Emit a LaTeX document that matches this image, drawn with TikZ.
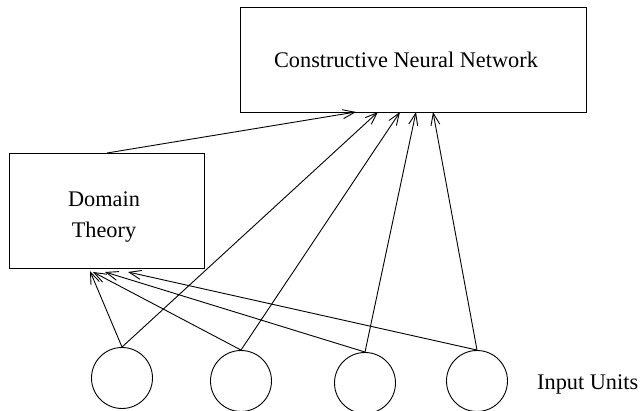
\documentclass[tikz,border=0pt]{standalone}
\usepackage{fontspec}
\setmainfont{Liberation Serif}
\usetikzlibrary{arrows.meta}
\begin{document}
\begin{tikzpicture}[x=1pt,y=-1pt,
  every node/.style={font=\fontsize{22.3}{31}\selectfont},
  box/.style={draw, line width=0.9pt, inner sep=0pt},
  txt/.style={inner sep=0pt, align=center},
  unit/.style={draw, circle, line width=0.9pt, minimum size=61pt, inner sep=0pt},
  conn/.style={line width=0.9pt, -{Straight Barb[length=12pt,width=9pt,line width=0.9pt]}}]
\useasboundingbox (0,0) rectangle (641,411);
\node[box, minimum width=346pt, minimum height=105pt] (cnn) at (413,59.5) {};
\node[txt] (cnntxt) at (406,60) {Constructive Neural Network};
\node[box, minimum width=195pt, minimum height=115pt] (dom) at (106.5,210.5) {};
\node[txt] (domtxt) at (104,217) {Domain\\Theory};
\node[unit] (u1) at (122,378) {};
\node[unit] (u2) at (241,381) {};
\node[unit] (u3) at (365,383) {};
\node[unit] (u4) at (477,381) {};
\node[anchor=west, inner sep=0pt] (lbl) at (537,384) {Input Units};
\coordinate (dtop) at (107,153);
\coordinate (k0) at (356,112);
\coordinate (k1) at (378,112);
\coordinate (k2) at (400,112);
\coordinate (k3) at (416,112);
\coordinate (k4) at (433,112);
\coordinate (d1) at (90,271);
\coordinate (d2) at (93,272);
\coordinate (d3) at (105,272);
\coordinate (d4) at (128,272);
\draw[conn] (dtop) -- (k0);
\draw[conn] (u1.north) -- (k1);
\draw[conn] (u2.north) -- (k2);
\draw[conn] (u3.north) -- (k3);
\draw[conn] (u4.north) -- (k4);
\draw[conn] (u1.north) -- (d1);
\draw[conn] (u2.north) -- (d2);
\draw[conn] (u3.north) -- (d3);
\draw[conn] (u4.north) -- (d4);
\end{tikzpicture}
\end{document}
